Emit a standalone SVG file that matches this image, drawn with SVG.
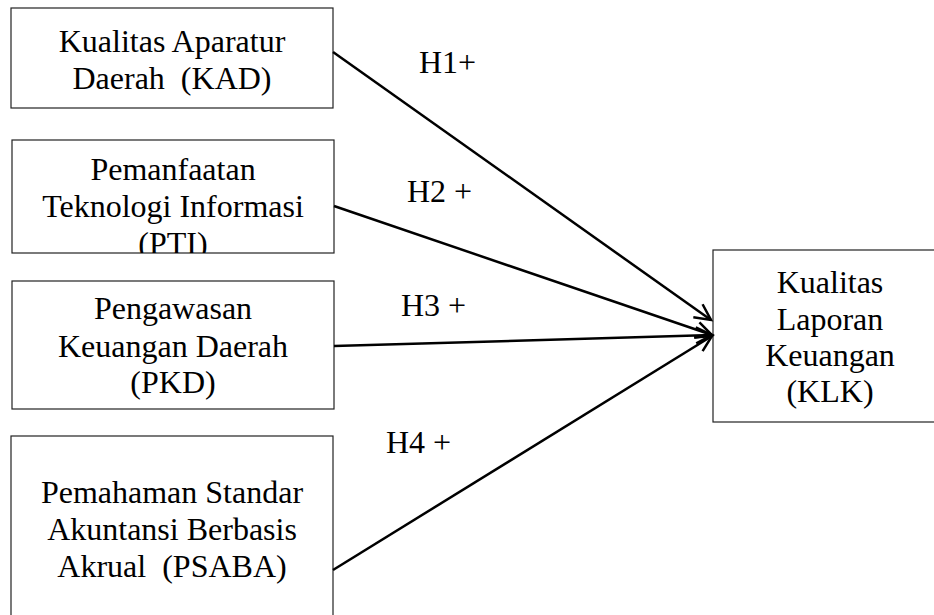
<svg xmlns="http://www.w3.org/2000/svg" width="934" height="615" viewBox="0 0 934 615">
<style>
.box{fill:#fff;stroke:#222;stroke-width:1.2}
.t{font-family:"Liberation Serif","Times New Roman",serif;font-size:32px;fill:#000;text-anchor:middle;white-space:pre}
.lbl{font-family:"Liberation Serif","Times New Roman",serif;font-size:32px;fill:#000}
.c{fill:none;stroke:#000;stroke-width:2.5}
</style>
<defs>
<marker id="ah" markerUnits="userSpaceOnUse" viewBox="-20 -12 24 24" refX="0" refY="0" markerWidth="24" markerHeight="24" orient="auto">
<path d="M-16,-8 L0,0 L-16,8" fill="none" stroke="#000" stroke-width="2.5"/>
</marker>
<clipPath id="cp2"><rect x="12" y="140" width="322" height="113"/></clipPath>
</defs>
<rect width="934" height="615" fill="#fff"/>
<g id="KAD">
<rect class="box" x="11" y="8" width="322" height="100"/>
<text class="t" x="172" y="52">Kualitas Aparatur</text>
<text class="t" x="172" y="89" xml:space="preserve">Daerah  (KAD)</text>
</g>
<g id="PTI">
<rect class="box" x="12" y="140" width="322" height="113"/>
<g clip-path="url(#cp2)">
<text class="t" x="173" y="180">Pemanfaatan</text>
<text class="t" x="173" y="217">Teknologi Informasi</text>
<text class="t" x="173" y="254">(PTI)</text>
</g>
</g>
<g id="PKD">
<rect class="box" x="12" y="281" width="322" height="128"/>
<text class="t" x="173" y="319">Pengawasan</text>
<text class="t" x="173" y="357">Keuangan Daerah</text>
<text class="t" x="173" y="393">(PKD)</text>
</g>
<g id="PSABA">
<rect class="box" x="11" y="436" width="322" height="190"/>
<text class="t" x="172" y="503">Pemahaman Standar</text>
<text class="t" x="172" y="540">Akuntansi Berbasis</text>
<text class="t" x="172" y="577" xml:space="preserve">Akrual  (PSABA)</text>
</g>
<g id="KLK">
<rect class="box" x="713" y="250" width="224" height="172"/>
<text class="t" x="830" y="293">Kualitas</text>
<text class="t" x="830" y="330">Laporan</text>
<text class="t" x="830" y="366">Keuangan</text>
<text class="t" x="830" y="402">(KLK)</text>
</g>
<g id="connectors">
<line class="c" x1="333" y1="52" x2="711" y2="320" marker-end="url(#ah)"/>
<line class="c" x1="334" y1="206" x2="712" y2="335" marker-end="url(#ah)"/>
<line class="c" x1="334" y1="346" x2="712" y2="335" marker-end="url(#ah)"/>
<line class="c" x1="333" y1="570" x2="712" y2="336" marker-end="url(#ah)"/>
<text class="lbl" x="419" y="73">H1+</text>
<text class="lbl" x="407" y="202">H2 +</text>
<text class="lbl" x="401" y="316">H3 +</text>
<text class="lbl" x="386" y="453">H4 +</text>
</g>
</svg>
